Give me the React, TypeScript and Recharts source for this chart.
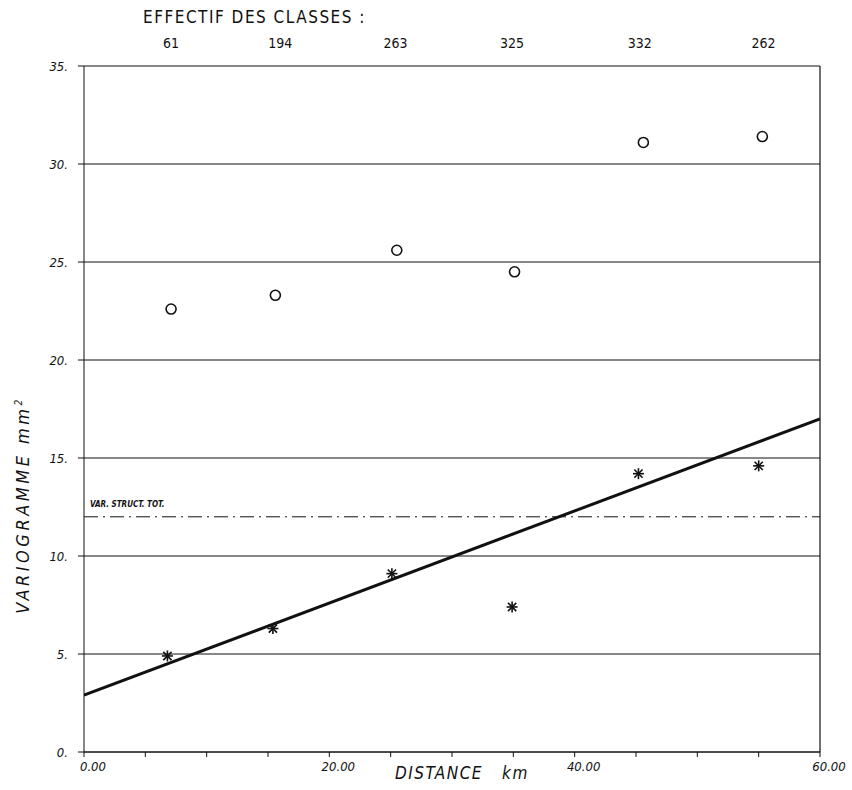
import React from 'react';
import { ComposedChart, Scatter, Line, XAxis, YAxis, CartesianGrid, ReferenceLine } from 'recharts';

// circles: experimental variogram, stars: structural variogram
const circleX = [7.1, 15.6, 25.5, 35.1, 45.6, 55.3];
const circleY = [22.6, 23.3, 25.6, 24.5, 31.1, 31.4];
const starX = [6.8, 15.4, 25.1, 34.9, 45.2, 55.0];
const starY = [4.9, 6.3, 9.1, 7.4, 14.2, 14.6];
// fitted linear model endpoints
const fitX = [0, 60];
const fitY = [2.9, 17.0];
const totalStructVar = 12;

const classCenters = [7.1, 16.0, 25.4, 34.9, 45.3, 55.4];
const classCounts = ['61', '194', '263', '325', '332', '262'];

const yTicks = [0, 5, 10, 15, 20, 25, 30, 35];
const xTicks = [0, 5, 10, 15, 20, 25, 30, 35, 40, 45, 50, 55, 60];
const xLabelled = [0, 20, 40, 60];

const FONT = "'DejaVu Sans Condensed', 'Liberation Sans Narrow', 'DejaVu Sans', sans-serif";

const circleData = circleX.map((x, i) => ({ x, y: circleY[i] }));
const starData = starX.map((x, i) => ({ x, y: starY[i] }));
const fitData = fitX.map((x, i) => ({ x, y: fitY[i] }));

const CircleShape = (props: any) => {
    const { cx, cy } = props;
    return <circle cx={cx} cy={cy} r={5} fill="#fff" stroke="#111" strokeWidth={1.6} />;
};

const StarShape = (props: any) => {
    const { cx, cy } = props;
    const r = 5.5;
    const d = r * 0.75;
    return (
        <g stroke="#111" strokeWidth={1.6}>
            <line x1={cx - r} y1={cy} x2={cx + r} y2={cy} />
            <line x1={cx} y1={cy - r} x2={cx} y2={cy + r} />
            <line x1={cx - d} y1={cy - d} x2={cx + d} y2={cy + d} />
            <line x1={cx - d} y1={cy + d} x2={cx + d} y2={cy - d} />
        </g>
    );
};

const BottomTick = (props: any) => {
    const { x, y, payload } = props;
    if (!xLabelled.includes(payload.value)) return null;
    return (
        <text x={x + 9} y={y + 12} textAnchor="middle" fontFamily={FONT} fontStyle="italic" fontSize={13} fill="#111">
            {payload.value.toFixed(2)}
        </text>
    );
};

const TopTick = (props: any) => {
    const { x, payload } = props;
    const idx = classCenters.indexOf(payload.value);
    return (
        <text x={x} y={48} textAnchor="middle" fontFamily={FONT} fontSize={14} fill="#111">
            {classCounts[idx] ?? ''}
        </text>
    );
};

const App: React.FC = () => {
    return (
        <div style={{ position: 'absolute', left: 0, top: 0, width: 852, height: 790, background: '#fff' }}>
            <ComposedChart width={852} height={790} margin={{ top: 0, right: 32, bottom: 0, left: 0 }}>
                <CartesianGrid xAxisId="bottom" horizontal vertical={false} stroke="#111" strokeWidth={1} />
                <XAxis
                    xAxisId="bottom"
                    dataKey="x"
                    type="number"
                    domain={[0, 60]}
                    ticks={xTicks}
                    height={38}
                    stroke="#111"
                    tickSize={5}
                    tick={<BottomTick />}
                    allowDataOverflow
                />
                <XAxis
                    xAxisId="top"
                    orientation="top"
                    dataKey="x"
                    type="number"
                    domain={[0, 60]}
                    ticks={classCenters}
                    height={66}
                    axisLine={false}
                    tickLine={false}
                    tick={<TopTick />}
                    allowDataOverflow
                />
                <YAxis
                    type="number"
                    domain={[0, 35]}
                    ticks={yTicks}
                    width={84}
                    stroke="#111"
                    tickSize={6}
                    tickMargin={10}
                    tickFormatter={(v: number) => `${v}.`}
                    tick={{ fontFamily: FONT, fontStyle: 'italic', fontSize: 13, fill: '#111' }}
                    allowDataOverflow
                />
                <ReferenceLine xAxisId="bottom" x={60} stroke="#111" strokeWidth={1.2} />
                <ReferenceLine
                    xAxisId="bottom"
                    y={totalStructVar}
                    stroke="#111"
                    strokeWidth={1}
                    strokeDasharray="14 5 2 5"
                />
                <Line
                    xAxisId="bottom"
                    data={fitData}
                    dataKey="y"
                    type="linear"
                    stroke="#111"
                    strokeWidth={3}
                    dot={false}
                    activeDot={false}
                    isAnimationActive={false}
                />
                <Scatter xAxisId="top" data={circleData} dataKey="y" shape={<CircleShape />} isAnimationActive={false} />
                <Scatter xAxisId="bottom" data={starData} dataKey="y" shape={<StarShape />} isAnimationActive={false} />
            </ComposedChart>
            <div style={{ position: 'absolute', left: 143, top: 7, fontFamily: FONT, fontSize: 17, color: '#111', whiteSpace: 'nowrap', letterSpacing: 1.5 }}>
                EFFECTIF DES CLASSES :
            </div>
            <div style={{ position: 'absolute', left: 90, top: 500, fontFamily: FONT, fontSize: 8, fontStyle: 'italic', fontWeight: 'bold', color: '#111', whiteSpace: 'nowrap' }}>
                VAR. STRUCT. TOT.
            </div>
            <div style={{ position: 'absolute', left: 395, top: 763, fontFamily: FONT, fontSize: 17, fontStyle: 'italic', color: '#111', whiteSpace: 'nowrap', letterSpacing: 1.5 }}>
                DISTANCE&nbsp;&nbsp;&nbsp;km
            </div>
            <div
                style={{
                    position: 'absolute',
                    left: 22,
                    top: 505,
                    transform: 'translate(-50%, -50%) rotate(-90deg)',
                    fontFamily: FONT,
                    fontSize: 18,
                    fontStyle: 'italic',
                    color: '#111',
                    whiteSpace: 'nowrap',
                    letterSpacing: 3.5,
                }}
            >
                VARIOGRAMME mm<sup style={{ fontSize: 10 }}>2</sup>
            </div>
        </div>
    );
};

export default App;
